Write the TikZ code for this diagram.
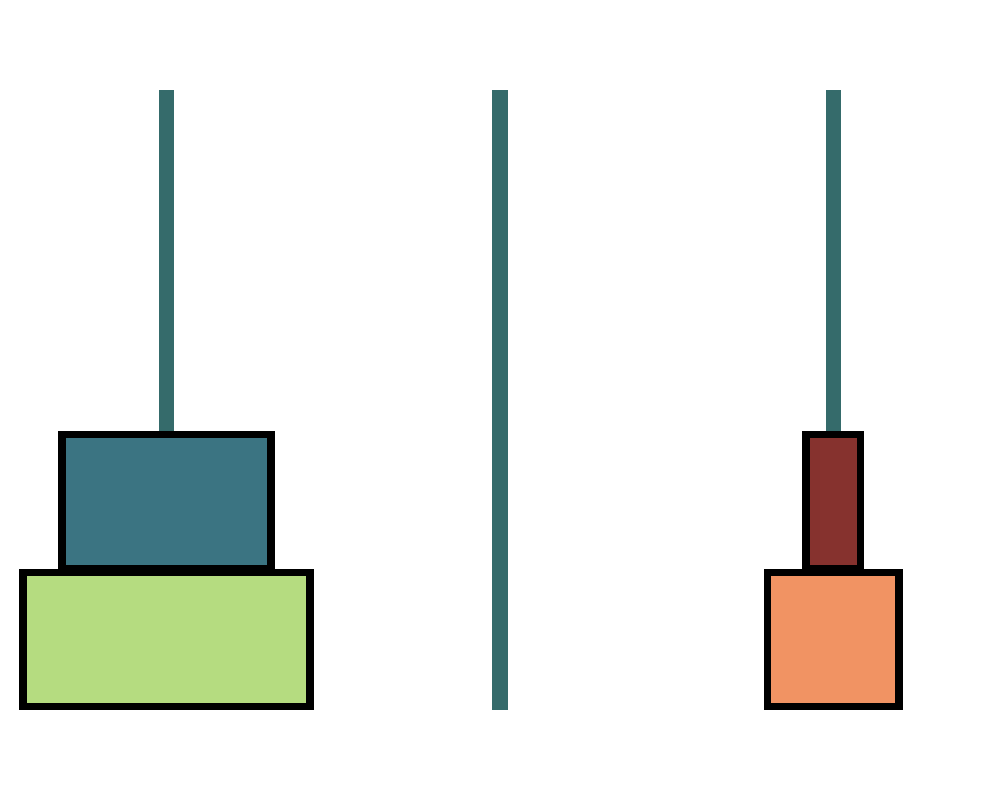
\documentclass[tikz,border=0pt]{standalone}
\definecolor{pegc}{HTML}{356B6B}
\definecolor{tealc}{HTML}{3B7482}
\definecolor{greenc}{HTML}{B5DC80}
\definecolor{brownc}{HTML}{86322E}
\definecolor{orangec}{HTML}{F19363}
\tikzset{
  peg/.style={fill=pegc, draw=none},
  disk/.style={draw=black, line width=7.5pt, line join=miter}
}
\begin{document}
\begin{tikzpicture}[x=1pt,y=-1pt]
\useasboundingbox (0,0) rectangle (1000,800);
% pegs
\fill[peg] (159,90) rectangle (174,710);
\fill[peg] (492,90) rectangle (508,710);
\fill[peg] (826,90) rectangle (841,710);
% left stack
\draw[disk, fill=greenc] (23,572.3) rectangle (310,706.5);
\draw[disk, fill=tealc] (62,434.7) rectangle (271,568.7);
% right stack
\draw[disk, fill=orangec] (767.5,572.3) rectangle (899,706.5);
\draw[disk, fill=brownc] (806,434.7) rectangle (860.5,568.7);
\end{tikzpicture}
\end{document}
